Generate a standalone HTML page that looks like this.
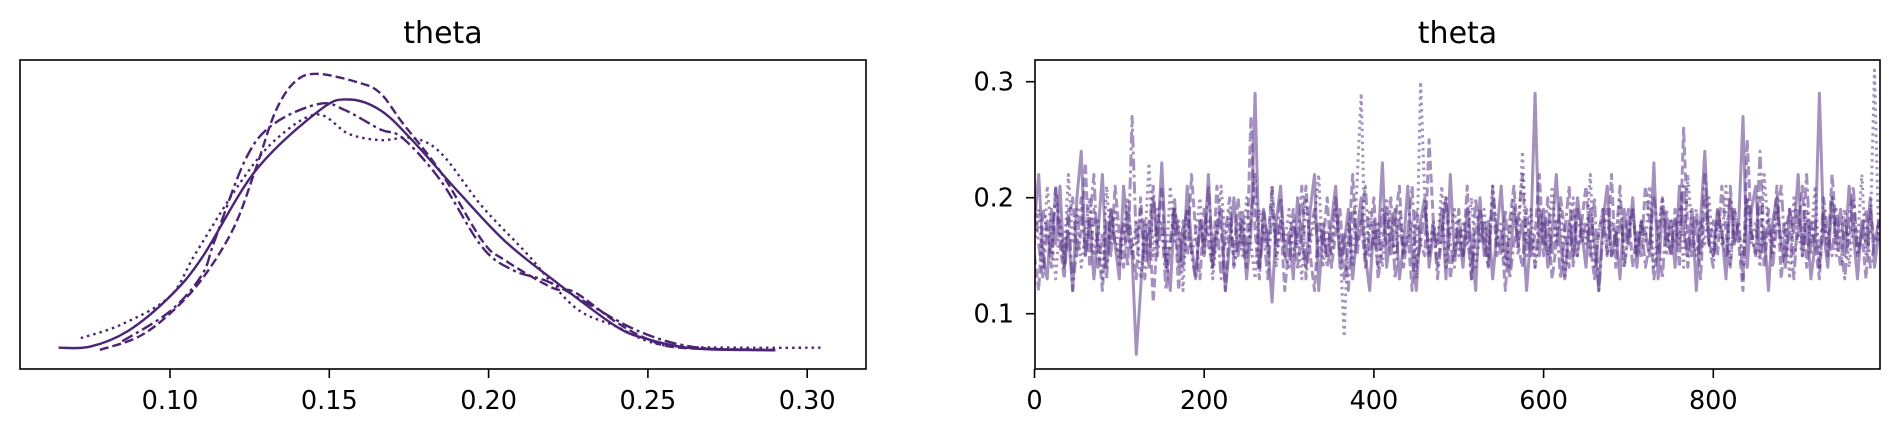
<!DOCTYPE html>
<html><head><meta charset="utf-8"><style>
html,body{margin:0;padding:0;background:#fff;}
svg{display:block;font-family:"DejaVu Sans","Liberation Sans",sans-serif;}
</style></head>
<body>
<svg id="fig" width="1900" height="436" viewBox="0 0 1900 436" xmlns="http://www.w3.org/2000/svg">
<rect x="0" y="0" width="1900" height="436" fill="#fff"/>
<g id="left"></g>
<g id="right"></g>
</svg>
<script>
// ---- KDE panel data (x values and densities per chain) ----
const kdeSolidX=[0.065,0.075,0.087,0.100,0.110,0.127,0.147,0.156,0.166,0.176,0.191,0.205,0.220,0.240,0.250,0.260,0.270,0.290];
const kdeSolidD=[0.2,0.25,1.0,2.6,4.4,8.5,11.3,11.8,11.3,9.9,7.4,5.2,3.4,1.2,0.6,0.25,0.12,0.08];
const kdeDashX=[0.078,0.090,0.100,0.110,0.120,0.127,0.133,0.139,0.146,0.159,0.166,0.173,0.185,0.198,0.205,0.220,0.227,0.240,0.250,0.260,0.290];
const kdeDashD=[0.1,0.7,1.8,3.4,5.8,8.6,11.2,12.6,13.0,12.6,12.1,10.7,8.4,5.2,4.3,3.0,2.8,1.4,0.6,0.2,0.1];
const kdeDashDotX=[0.085,0.100,0.110,0.114,0.124,0.133,0.147,0.155,0.166,0.173,0.185,0.198,0.208,0.220,0.240,0.250,0.260,0.270,0.285];
const kdeDashDotD=[0.5,1.9,3.6,5.2,9.1,10.7,11.6,11.3,10.4,10.0,8.0,4.9,3.8,3.2,1.5,0.8,0.35,0.15,0.1];
const kdeDotX=[0.072,0.085,0.100,0.108,0.122,0.133,0.146,0.156,0.166,0.176,0.185,0.198,0.212,0.227,0.240,0.250,0.260,0.280,0.305];
const kdeDotD=[0.65,1.3,2.6,4.6,7.9,9.9,11.1,10.2,9.9,10.0,9.3,6.8,4.6,2.1,1.2,0.5,0.25,0.2,0.2];
const kdeTicks=[0.10,0.15,0.20,0.25,0.30];
const kdeTickLabels=["0.10","0.15","0.20","0.25","0.30"];

// ---- Trace panel data (every 5th draw) ----
const traceStep=5;
const chainSolid=[0.18,0.22,0.15,0.13,0.19,0.16,0.21,0.14,0.17,0.12,0.20,0.24,0.15,0.18,0.13,0.17,0.22,0.14,0.19,0.16,
0.13,0.21,0.17,0.15,0.065,0.12,0.18,0.14,0.20,0.16,0.23,0.15,0.12,0.19,0.17,0.14,0.21,0.16,0.13,0.18,
0.15,0.22,0.14,0.17,0.19,0.12,0.16,0.20,0.15,0.18,0.13,0.17,0.29,0.14,0.19,0.16,0.11,0.18,0.21,0.15,
0.17,0.13,0.20,0.16,0.14,0.19,0.22,0.12,0.17,0.15,0.18,0.21,0.14,0.16,0.19,0.13,0.17,0.20,0.15,0.12,
0.18,0.16,0.23,0.14,0.17,0.19,0.13,0.16,0.21,0.15,0.12,0.18,0.20,0.14,0.17,0.16,0.19,0.13,0.22,0.15,
0.17,0.14,0.19,0.16,0.12,0.20,0.15,0.18,0.13,0.17,0.21,0.15,0.14,0.19,0.16,0.18,0.12,0.17,0.29,0.15,
0.19,0.14,0.17,0.22,0.16,0.13,0.18,0.15,0.20,0.17,0.14,0.19,0.16,0.12,0.18,0.21,0.15,0.17,0.13,0.19,
0.16,0.20,0.14,0.18,0.17,0.15,0.23,0.13,0.19,0.16,0.18,0.14,0.21,0.17,0.15,0.19,0.12,0.18,0.24,0.16,
0.15,0.19,0.17,0.13,0.20,0.16,0.18,0.27,0.14,0.19,0.21,0.15,0.17,0.12,0.18,0.20,0.16,0.14,0.19,0.17,
0.22,0.15,0.18,0.13,0.16,0.29,0.17,0.14,0.20,0.16,0.19,0.15,0.21,0.17,0.13,0.18,0.16,0.20,0.14,0.17];
const chainDash=[0.15,0.12,0.19,0.17,0.14,0.21,0.16,0.13,0.18,0.20,0.15,0.17,0.23,0.14,0.19,0.16,0.12,0.18,0.15,0.21,
0.17,0.14,0.19,0.16,0.13,0.20,0.15,0.18,0.11,0.17,0.21,0.14,0.16,0.19,0.12,0.18,0.15,0.22,0.17,0.13,
0.19,0.16,0.14,0.21,0.17,0.12,0.18,0.15,0.20,0.16,0.14,0.27,0.17,0.13,0.19,0.16,0.21,0.15,0.18,0.12,
0.16,0.19,0.14,0.17,0.21,0.15,0.12,0.18,0.16,0.20,0.14,0.17,0.19,0.13,0.16,0.22,0.15,0.18,0.14,0.17,
0.20,0.13,0.16,0.19,0.15,0.18,0.21,0.14,0.17,0.12,0.19,0.16,0.15,0.25,0.18,0.14,0.17,0.20,0.13,0.16,
0.18,0.15,0.21,0.13,0.17,0.19,0.16,0.14,0.20,0.15,0.17,0.12,0.18,0.21,0.16,0.14,0.19,0.15,0.17,0.22,
0.15,0.18,0.13,0.16,0.20,0.17,0.14,0.19,0.15,0.18,0.21,0.16,0.13,0.17,0.19,0.15,0.22,0.14,0.18,0.16,
0.19,0.14,0.17,0.15,0.21,0.18,0.13,0.16,0.20,0.17,0.15,0.19,0.14,0.26,0.17,0.15,0.18,0.13,0.20,0.16,
0.18,0.15,0.21,0.17,0.14,0.19,0.16,0.12,0.25,0.17,0.15,0.20,0.14,0.18,0.16,0.21,0.13,0.17,0.19,0.15,
0.17,0.21,0.14,0.18,0.16,0.13,0.19,0.15,0.22,0.17,0.14,0.18,0.16,0.20,0.15,0.17,0.13,0.19,0.16,0.18];
const chainDashDot=[0.20,0.16,0.13,0.18,0.15,0.21,0.17,0.14,0.19,0.12,0.16,0.20,0.15,0.18,0.22,0.14,0.17,0.13,0.19,0.16,
0.15,0.18,0.14,0.27,0.16,0.19,0.13,0.17,0.21,0.15,0.18,0.12,0.16,0.20,0.14,0.17,0.19,0.15,0.13,0.18,
0.16,0.21,0.15,0.18,0.13,0.17,0.20,0.14,0.16,0.19,0.15,0.18,0.22,0.14,0.17,0.13,0.19,0.16,0.20,0.15,
0.14,0.18,0.16,0.21,0.13,0.17,0.19,0.15,0.18,0.14,0.16,0.20,0.15,0.17,0.12,0.19,0.16,0.18,0.21,0.15,
0.17,0.14,0.19,0.16,0.20,0.13,0.18,0.15,0.17,0.21,0.14,0.16,0.19,0.15,0.18,0.13,0.17,0.20,0.16,0.14,
0.19,0.15,0.17,0.13,0.20,0.16,0.18,0.14,0.21,0.17,0.15,0.19,0.13,0.16,0.18,0.22,0.15,0.17,0.14,0.19,
0.16,0.20,0.15,0.18,0.13,0.17,0.21,0.14,0.19,0.16,0.18,0.15,0.20,0.12,0.17,0.19,0.15,0.16,0.21,0.14,
0.17,0.19,0.15,0.18,0.14,0.16,0.20,0.17,0.13,0.19,0.15,0.18,0.16,0.21,0.14,0.17,0.19,0.15,0.22,0.16,
0.14,0.19,0.17,0.15,0.21,0.16,0.18,0.13,0.20,0.17,0.15,0.24,0.16,0.19,0.14,0.18,0.21,0.15,0.17,0.13,
0.19,0.16,0.22,0.15,0.18,0.14,0.20,0.17,0.15,0.19,0.16,0.13,0.18,0.21,0.15,0.17,0.19,0.14,0.16,0.18];
const chainDot=[0.16,0.19,0.14,0.21,0.17,0.13,0.18,0.15,0.22,0.16,0.19,0.14,0.17,0.20,0.15,0.18,0.13,0.21,0.16,0.19,
0.14,0.17,0.20,0.15,0.18,0.13,0.16,0.23,0.15,0.19,0.17,0.14,0.21,0.16,0.18,0.12,0.19,0.15,0.17,0.20,
0.15,0.18,0.13,0.17,0.21,0.16,0.19,0.14,0.18,0.15,0.20,0.16,0.13,0.19,0.17,0.15,0.21,0.14,0.18,0.16,
0.19,0.15,0.17,0.13,0.20,0.16,0.18,0.22,0.14,0.17,0.15,0.19,0.16,0.08,0.18,0.14,0.21,0.29,0.15,0.19,
0.16,0.18,0.14,0.20,0.17,0.15,0.19,0.16,0.16,0.18,0.13,0.30,0.20,0.15,0.18,0.16,0.21,0.14,0.17,0.19,
0.15,0.18,0.16,0.20,0.14,0.17,0.19,0.15,0.21,0.16,0.18,0.14,0.17,0.20,0.15,0.24,0.16,0.19,0.14,0.17,
0.18,0.15,0.21,0.16,0.19,0.13,0.17,0.20,0.15,0.18,0.16,0.22,0.14,0.17,0.19,0.15,0.18,0.16,0.20,0.14,
0.17,0.19,0.15,0.18,0.16,0.21,0.14,0.17,0.20,0.15,0.18,0.16,0.19,0.14,0.22,0.17,0.15,0.18,0.16,0.20,
0.15,0.18,0.16,0.21,0.14,0.19,0.17,0.15,0.20,0.16,0.18,0.14,0.22,0.17,0.15,0.19,0.16,0.18,0.13,0.20,
0.17,0.15,0.19,0.16,0.21,0.14,0.18,0.16,0.20,0.15,0.17,0.19,0.14,0.18,0.16,0.22,0.15,0.17,0.31,0.16];
const traceXTicks=[0,200,400,600,800];
const traceYTicks=[0.1,0.2,0.3];
const traceYTickLabels=["0.1","0.2","0.3"];

const NS="http://www.w3.org/2000/svg";
function mk(tag,parent,attrs){const e=document.createElementNS(NS,tag);for(const k in attrs)e.setAttribute(k,attrs[k]);parent.appendChild(e);return e;}
function smoothPath(P){
  let d='M'+P[0][0].toFixed(1)+','+P[0][1].toFixed(1);
  for(let i=0;i<P.length-1;i++){
    const p0=P[Math.max(i-1,0)],p1=P[i],p2=P[i+1],p3=P[Math.min(i+2,P.length-1)];
    const c1x=p1[0]+(p2[0]-p0[0])/6,c1y=p1[1]+(p2[1]-p0[1])/6;
    const c2x=p2[0]-(p3[0]-p1[0])/6,c2y=p2[1]-(p3[1]-p1[1])/6;
    d+=' C'+c1x.toFixed(1)+','+c1y.toFixed(1)+' '+c2x.toFixed(1)+','+c2y.toFixed(1)+' '+p2[0].toFixed(1)+','+p2[1].toFixed(1);
  }
  return d;
}

const L={x0:20,x1:866,y0:60,y1:369};
const kx=v=>170+(v-0.10)*3186;
const ky=d=>352-d*21.4;
const R={x0:1035,x1:1880,y0:60,y1:369};
const tx=i=>1034.5+i*0.8485;
const ty=v=>197.7-(v-0.2)*1160;

const left=document.getElementById('left');
const right=document.getElementById('right');
const col="#4a2575";
const styles=[{n:'solid',d:''},{n:'dashed',d:'9,4'},{n:'dash-dot',d:'12,4,3,4'},{n:'dotted',d:'2.5,4'}];

const kdeSeries=[[kdeSolidX,kdeSolidD],[kdeDashX,kdeDashD],[kdeDashDotX,kdeDashDotD],[kdeDotX,kdeDotD]];
kdeSeries.forEach((s,ci)=>{
  const P=s[0].map((x,i)=>[kx(x),ky(s[1][i])]);
  const p=mk('path',left,{d:smoothPath(P),fill:'none',stroke:col,'stroke-width':2.4,'stroke-linejoin':'round'});
  if(styles[ci].d)p.setAttribute('stroke-dasharray',styles[ci].d);
  
  
});
const lf=mk('rect',left,{x:L.x0,y:L.y0,width:L.x1-L.x0,height:L.y1-L.y0,fill:'none',stroke:'#000','stroke-width':1.6});


kdeTicks.forEach((v,i)=>{
  const x=kx(v);
  const t=mk('line',left,{x1:x,x2:x,y1:L.y1,y2:L.y1+9,stroke:'#000','stroke-width':1.6});
  
  
  const tl=mk('text',left,{x:x,y:409,'text-anchor':'middle','font-size':25.5,fill:'#000'});
  tl.textContent=kdeTickLabels[i];
  
  
});
const lt=mk('text',left,{x:(L.x0+L.x1)/2,y:43,'text-anchor':'middle','font-size':30,fill:'#000'});
lt.textContent='theta';



const clip=mk('clipPath',right,{id:'rc'});
mk('rect',clip,{x:R.x0,y:R.y0,width:R.x1-R.x0,height:R.y1-R.y0});
const chains=[chainSolid,chainDash,chainDashDot,chainDot];
chains.forEach((c,ci)=>{
  let pts=c.map((v,i)=>tx(i*traceStep).toFixed(1)+','+ty(v).toFixed(1)).join(' ');
  const p=mk('polyline',right,{points:pts,fill:'none',stroke:'#5a3688','stroke-opacity':0.55,'stroke-width':3,'stroke-linejoin':'round','clip-path':'url(#rc)'});
  if(styles[ci].d)p.setAttribute('stroke-dasharray',styles[ci].d);
  
  
});
const rf=mk('rect',right,{x:R.x0,y:R.y0,width:R.x1-R.x0,height:R.y1-R.y0,fill:'none',stroke:'#000','stroke-width':1.6});


traceXTicks.forEach(v=>{
  const x=tx(v);
  const t=mk('line',right,{x1:x,x2:x,y1:R.y1,y2:R.y1+9,stroke:'#000','stroke-width':1.6});
  
  
  const tl=mk('text',right,{x:x,y:409,'text-anchor':'middle','font-size':25.5,fill:'#000'});
  tl.textContent=String(v);
  
  
});
traceYTicks.forEach((v,i)=>{
  const y=ty(v);
  const t=mk('line',right,{x1:R.x0-9,x2:R.x0,y1:y,y2:y,stroke:'#000','stroke-width':1.6});
  
  
  const tl=mk('text',right,{x:1014,y:y+9,'text-anchor':'end','font-size':25.5,fill:'#000'});
  tl.textContent=traceYTickLabels[i];
  
  
});
const rt=mk('text',right,{x:(R.x0+R.x1)/2,y:43,'text-anchor':'middle','font-size':30,fill:'#000'});
rt.textContent='theta';


</script>
</body></html>
